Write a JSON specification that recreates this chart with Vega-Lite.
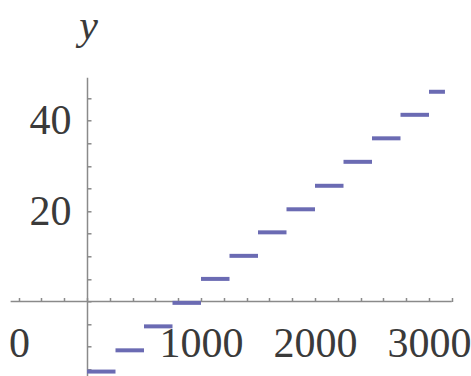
{
  "$schema": "https://vega.github.io/schema/vega-lite/v6.json",
  "autosize": "none",
  "padding": {"left": -27, "top": 77.3, "right": 19.2, "bottom": 0},
  "width": 478.8,
  "height": 298.7,
  "background": "white",
  "config": {
    "view": {"stroke": null},
    "axis": {
      "grid": false,
      "domainColor": "#8a8a8a",
      "domainWidth": 1.5,
      "tickColor": "#8a8a8a",
      "tickWidth": 1.5,
      "tickSize": -4,
      "labelFont": "Liberation Serif",
      "labelFontSize": 42,
      "labelColor": "#3a3a3a",
      "labelOverlap": false,
      "labelFlush": false,
      "labelBound": false
    }
  },
  "encoding": {
    "x": {
      "field": "x0",
      "type": "quantitative",
      "scale": {"domain": [-1000, 3200], "nice": false, "zero": false},
      "axis": {
        "orient": "bottom",
        "offset": -74.5,
        "title": null,
        "domain": false,
        "values": [-1000, -600, -400, -200, 0, 200, 400, 600, 800, 1000, 1200, 1400, 1600, 1800, 2000, 2200, 2400, 2600, 2800, 3000, 3200],
        "tickOpacity": {"condition": {"test": "datum.value < -650", "value": 0}, "value": 1},
        "labelExpr": "datum.value == -1000 ? '0' : (datum.value % 1000 == 0 && datum.value != 0 ? format(datum.value, 'd') : '')",
        "labelOffset": {"condition": {"test": "datum.value == -1000", "value": 46}, "value": 0},
        "labelBaseline": "middle",
        "labelPadding": 46
      }
    },
    "x2": {"field": "x1"},
    "y": {
      "field": "y",
      "type": "quantitative",
      "scale": {"domain": [-16.48, 49.6], "nice": false, "zero": false},
      "axis": {
        "orient": "left",
        "offset": -114,
        "values": [-15, -10, -5, 0, 5, 10, 15, 20, 25, 30, 35, 40, 45],
        "labelExpr": "datum.value == 20 || datum.value == 40 ? datum.label : ''",
        "labelPadding": 20,
        "title": "y",
        "titleFont": "Liberation Serif",
        "titleFontStyle": "italic",
        "titleFontWeight": "normal",
        "titleFontSize": 42,
        "titleColor": "#3a3a3a",
        "titleAngle": 0,
        "titleX": 1,
        "titleY": -39,
        "titleAlign": "center",
        "titleBaseline": "alphabetic"
      }
    }
  },
  "layer": [
    {
      "data": {"values": [{"x0": -670, "x1": 3200, "y": 0}]},
      "mark": {"type": "rule", "strokeWidth": 1.5, "color": "#8a8a8a"}
    },
    {
      "data": {
        "values": [
          {"x0": 0, "x1": 250, "y": -15.5},
          {"x0": 250, "x1": 500, "y": -10.8},
          {"x0": 500, "x1": 750, "y": -5.5},
          {"x0": 750, "x1": 1000, "y": -0.3},
          {"x0": 1000, "x1": 1250, "y": 5.0},
          {"x0": 1250, "x1": 1500, "y": 10.1},
          {"x0": 1500, "x1": 1750, "y": 15.3},
          {"x0": 1750, "x1": 2000, "y": 20.4},
          {"x0": 2000, "x1": 2250, "y": 25.6},
          {"x0": 2250, "x1": 2500, "y": 30.9},
          {"x0": 2500, "x1": 2750, "y": 36.1},
          {"x0": 2750, "x1": 3000, "y": 41.3},
          {"x0": 3000, "x1": 3140, "y": 46.4}
        ]
      },
      "mark": {"type": "rule", "strokeWidth": 4, "color": "#6b6bb3", "strokeCap": "butt"}
    }
  ]
}
